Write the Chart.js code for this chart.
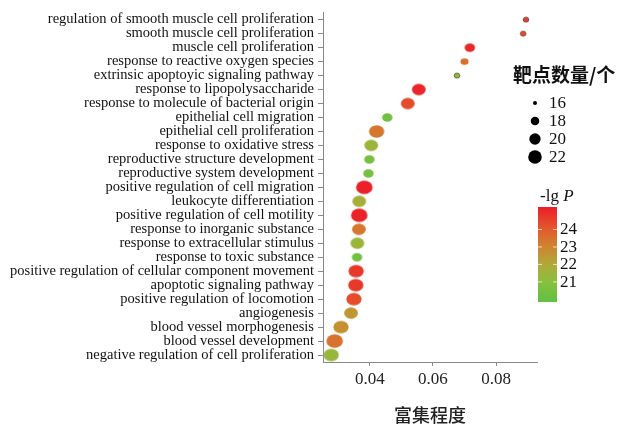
<!DOCTYPE html>
<html><head><meta charset="utf-8">
<script src="https://cdn.jsdelivr.net/npm/chart.js@4/dist/chart.umd.min.js"></script>
<style>html,body{margin:0;padding:0;background:#fff}#wrap{width:620px;height:429px;position:relative}</style>
</head><body><div id="wrap"><canvas id="c" width="620" height="429"></canvas></div>
<script>
const categories = [
  'regulation of smooth muscle cell proliferation',
  'smooth muscle cell proliferation',
  'muscle cell proliferation',
  'response to reactive oxygen species',
  'extrinsic apoptoyic signaling pathway',
  'response to lipopolysaccharide',
  'response to molecule of bacterial origin',
  'epithelial cell migration',
  'epithelial cell proliferation',
  'response to oxidative stress',
  'reproductive structure development',
  'reproductive system development',
  'positive regulation of cell migration',
  'leukocyte differentiation',
  'positive regulation of cell motility',
  'response to inorganic substance',
  'response to extracellular stimulus',
  'response to toxic substance',
  'positive regulation of cellular component movement',
  'apoptotic signaling pathway',
  'positive regulation of locomotion',
  'angiogenesis',
  'blood vessel morphogenesis',
  'blood vessel development',
  'negative regulation of cell proliferation'
];
const richFactor = [0.0895, 0.0886, 0.0717, 0.0700, 0.0676, 0.0555, 0.0520, 0.0455, 0.0421, 0.0404,
                    0.0398, 0.0395, 0.0382, 0.0366, 0.0366, 0.0365, 0.0360, 0.0359, 0.0356, 0.0355,
                    0.0349, 0.0340, 0.0308, 0.0288, 0.0277];
const geneCounts = [16, 16, 18, 17, 16, 20, 20, 18, 21, 20,
                    18, 18, 22, 20, 22, 20, 20, 18, 21, 21,
                    21, 20, 21, 22, 21];
const negLogP = [24.5, 24.3, 25.1, 23.5, 21.0, 25.1, 24.3, 20.3, 23.3, 21.5,
                 20.4, 20.4, 25.2, 21.7, 25.2, 23.3, 21.5, 20.3, 24.7, 24.7,
                 24.3, 22.5, 22.7, 23.4, 21.4];
const xTicks = [0.04, 0.06, 0.08];
const sizeLegendCounts = [16, 18, 20, 22];
const colorTicks = [24, 23, 22, 21];
const colorRange = [19.82, 25.26];

// styles
const colorStops = [[19.82,[96,192,68]],[21,[138,192,62]],[22,[176,168,56]],[23,[208,132,48]],[24,[226,90,44]],[25.26,[234,30,40]]];
function colorFor(v){
  if (v <= colorStops[0][0]) return colorStops[0][1];
  for (let i=1;i<colorStops.length;i++){
    if (v <= colorStops[i][0]){
      const [a,ca]=colorStops[i-1],[b,cb]=colorStops[i];
      const t=(v-a)/(b-a);
      return ca.map((c,k)=>Math.round(c+(cb[k]-c)*t));
    }
  }
  return colorStops[colorStops.length-1][1];
}
const rgb = c => `rgb(${c[0]},${c[1]},${c[2]})`;
function diam(c){ return Math.sqrt(Math.max(0, 16 + 28*(c-16))); }
function ellipse(w, h, fill, stroke){
  const cv = document.createElement('canvas');
  const W = Math.ceil(w)+2, H = Math.ceil(h)+2;
  cv.width = W; cv.height = H;
  const g = cv.getContext('2d');
  g.beginPath(); g.ellipse(W/2, H/2, w/2, h/2, 0, 0, Math.PI*2);
  g.fillStyle = fill; g.fill();
  if (stroke){ g.lineWidth = 0.8; g.strokeStyle = stroke; g.stroke(); }
  return cv;
}
const pointImgs = geneCounts.map((c,i)=>{
  const d = diam(c);
  const col = colorFor(negLogP[i]);
  const small = d < 6;
  return small ? ellipse(5.6, 5, rgb(col), 'rgba(80,50,35,0.85)') : ellipse(d*1.22, d, rgb(col), null);
});

const serif = "'Liberation Serif', 'Times New Roman', serif";
const legendPlugin = {
  id: 'legendDraw',
  afterDraw(chart){
    const g = chart.ctx;
    g.save();
    g.fillStyle = '#111';
    g.font = "600 19px 'Noto Sans CJK SC'";
    g.textBaseline = 'middle'; g.textAlign = 'left';
    g.fillText('靶点数量/个', 513, 75);
    // size legend
    const ys = [103, 121, 139, 157];
    sizeLegendCounts.forEach((c,i)=>{
      const d = diam(c);
      g.beginPath(); g.arc(535, ys[i], d/2, 0, Math.PI*2); g.fillStyle = '#000'; g.fill();
      g.font = `17px ${serif}`; g.fillStyle = '#111';
      g.fillText(String(c), 549, ys[i]+1);
    });
    // color legend title
    g.font = `17px ${serif}`;
    g.fillText('-lg ', 540, 197);
    const w = g.measureText('-lg ').width;
    g.font = `italic 17px ${serif}`;
    g.fillText('P', 540 + w, 197);
    // color bar
    const x0 = 538, x1 = 557, yTop = 207, yBot = 302;
    for (let y = yTop; y < yBot; y++){
      const v = colorRange[1] - (y + 0.5 - yTop)/(yBot - yTop)*(colorRange[1]-colorRange[0]);
      g.fillStyle = rgb(colorFor(v));
      g.fillRect(x0, y, x1 - x0, 1);
    }
    g.strokeStyle = 'rgba(255,255,255,0.7)'; g.lineWidth = 1;
    g.font = `17px ${serif}`; g.fillStyle = '#111';
    colorTicks.forEach(t=>{
      const y = yBot - (t - colorRange[0])/(colorRange[1]-colorRange[0])*(yBot-yTop);
      g.beginPath(); g.moveTo(x0, y+0.5); g.lineTo(x0+4, y+0.5); g.moveTo(x1-4, y+0.5); g.lineTo(x1, y+0.5); g.stroke();
      g.fillText(String(t), 560, y+1);
    });
    g.restore();
  }
};

new Chart(document.getElementById('c'), {
  type: 'scatter',
  data: {
    datasets: [{
      data: categories.map((c,i)=>({x: richFactor[i], y: c})),
      pointStyle: ctx => pointImgs[ctx.dataIndex],
      backgroundColor: negLogP.map(v=>rgb(colorFor(v))),
      borderWidth: 0
    }]
  },
  options: {
    responsive: false,
    animation: false,
    devicePixelRatio: 1,
    layout: { padding: { top: 9.5, right: 83, left: 0, bottom: 0 } },
    plugins: { legend: { display: false }, tooltip: { enabled: false } },
    scales: {
      x: {
        type: 'linear', position: 'bottom', min: 0.0251, max: 0.093,
        grid: { drawOnChartArea: false, drawTicks: true, tickLength: 4, tickColor: '#888' },
        border: { display: true, color: '#888', width: 1 },
        ticks: { font: { family: serif, size: 17 }, color: '#222', padding: 3, callback: v => v.toFixed(2) },
        afterBuildTicks: s => { s.ticks = xTicks.map(v => ({ value: v })); },
        afterFit: s => { s.height = 67; },
        title: { display: true, text: '富集程度', font: { family: "'Noto Sans CJK SC'", size: 18, weight: '500' }, color: '#222', padding: { top: 0, bottom: 3 } }
      },
      y: {
        type: 'category', labels: categories, offset: true, position: 'left',
        grid: { drawOnChartArea: false, drawTicks: true, tickLength: 5, tickColor: '#888' },
        border: { display: true, color: '#888', width: 1 },
        ticks: { font: { family: serif, size: 14.5 }, color: '#111', padding: 4, autoSkip: false },
        afterFit: s => { s.width = 323; }
      }
    }
  },
  plugins: [legendPlugin]
});
</script></body></html>
